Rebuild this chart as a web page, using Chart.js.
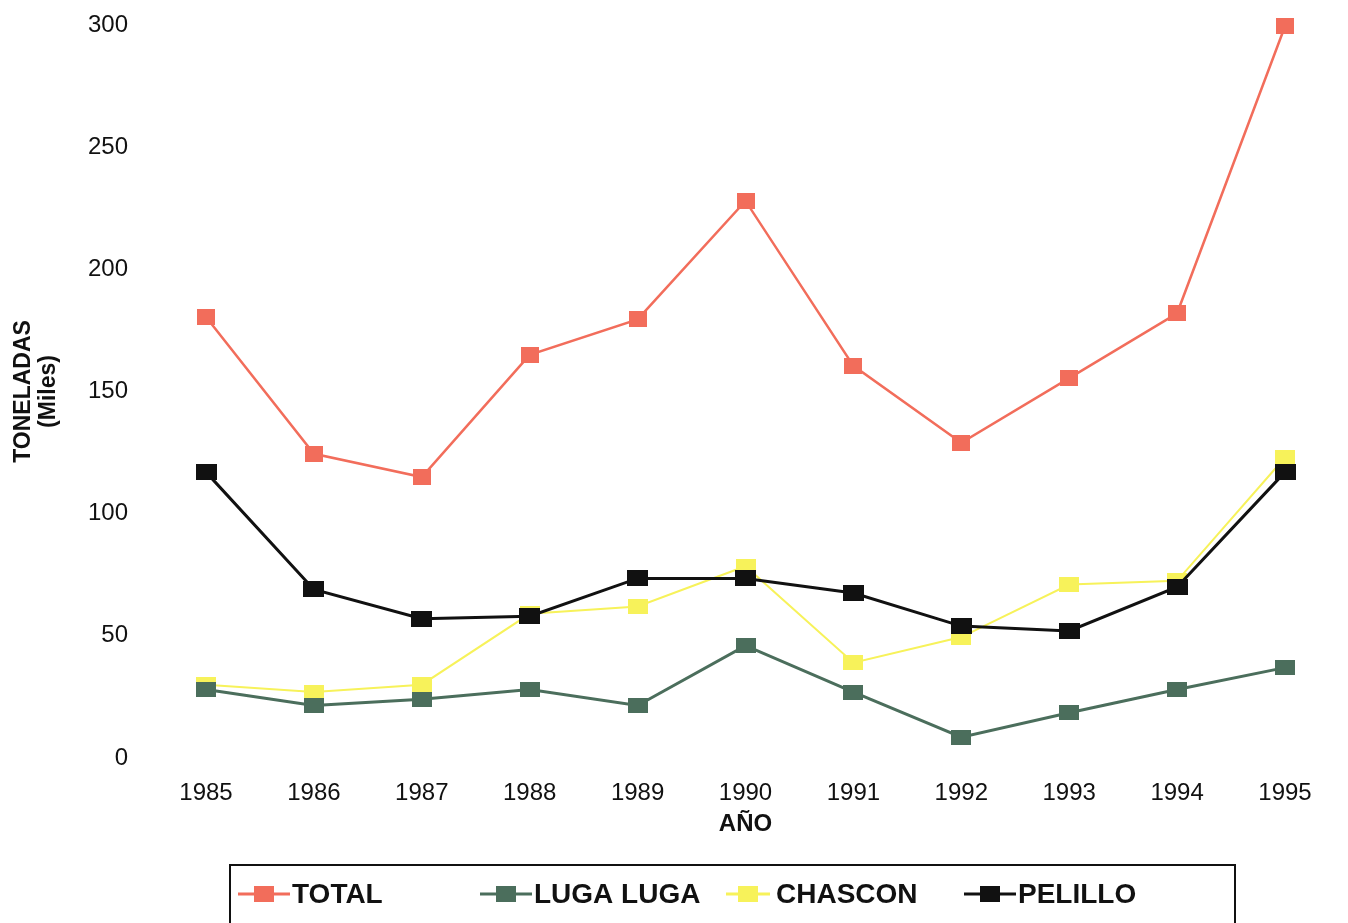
<!DOCTYPE html>
<html>
<head>
<meta charset="utf-8">
<script src="https://cdn.jsdelivr.net/npm/chart.js@4/dist/chart.umd.min.js"></script>
<style>
html,body{margin:0;padding:0;background:#fff;}
#wrap{position:relative;width:1348px;height:923px;}
</style>
</head>
<body>
<div id="wrap"><canvas id="c" width="1348" height="923"></canvas></div>
<script>
const years = ['1985','1986','1987','1988','1989','1990','1991','1992','1993','1994','1995'];
const total    = [180.5, 124.5, 115, 165, 179.5, 228, 160.5, 129, 155.5, 182, 299.5];
const lugaLuga = [28, 21.5, 24, 28, 21.5, 46, 27, 8.5, 18.5, 28, 37];
const chascon  = [30, 27, 30, 59, 62, 78.5, 39, 49.5, 71, 72.5, 123];
const pelillo  = [117, 69, 57, 58, 73.5, 73.5, 67.5, 54, 52, 70, 117];
const yTicks   = [0, 50, 100, 150, 200, 250, 300];

function box(color, w, h){
  const c = document.createElement('canvas');
  c.width = w; c.height = h;
  const x = c.getContext('2d');
  x.fillStyle = color; x.fillRect(0,0,w,h);
  return c;
}

const C_TOTAL = '#f26d5b', C_LUGA = '#4b6e5c', C_CHAS = '#f7f25a', C_PEL = '#111111';
const FONT = '"Liberation Sans", Arial, sans-serif';

const legendPlugin = {
  id: 'boxLegend',
  afterDraw(chart){
    const ctx = chart.ctx;
    ctx.save();
    ctx.strokeStyle = '#111';
    ctx.lineWidth = 2;
    ctx.strokeRect(230, 865, 1005, 80);
    const items = chart.data.datasets.slice().sort((a,b)=>a.legendIndex-b.legendIndex);
    const y = 894;
    items.forEach((ds, i) => {
      const x0 = 238 + i*242;
      ctx.strokeStyle = ds.borderColor;
      ctx.lineWidth = 3;
      ctx.beginPath(); ctx.moveTo(x0 + (i===2 ? 4 : 0), y); ctx.lineTo(x0 + (i===2 ? 48 : 52), y); ctx.stroke();
      ctx.fillStyle = ds.pointBackgroundColor;
      ctx.fillRect(x0+16, y-8, 20, 16);
      ctx.fillStyle = '#111';
      ctx.font = 'bold 28px ' + FONT;
      ctx.textBaseline = 'middle';
      ctx.textAlign = 'left';
      ctx.fillText(ds.label, x0 + 54, y+1);
    });
    ctx.restore();
  }
};

function ds(label, data, color, w, h, lw, order, legendIndex){
  return {
    label, data,
    borderColor: color, backgroundColor: color,
    pointBackgroundColor: color,
    borderWidth: lw,
    pointStyle: box(color, w, h),
    pointRadius: 10,
    tension: 0,
    clip: false,
    order, legendIndex
  };
}

new Chart(document.getElementById('c'), {
  type: 'line',
  data: {
    labels: years,
    datasets: [
      ds('TOTAL', total, C_TOTAL, 18, 16, 2.5, 0, 0),
      ds('LUGA LUGA', lugaLuga, C_LUGA, 20, 15, 3, 1, 1),
      ds('CHASCON', chascon, C_CHAS, 20, 15, 2, 2, 2),
      ds('PELILLO', pelillo, C_PEL, 21, 16, 3, 0, 3)
    ]
  },
  options: {
    responsive: false,
    animation: false,
    layout: { padding: { left: 0, right: 63, top: 25, bottom: 83 } },
    plugins: { legend: { display: false }, tooltip: { enabled: false } },
    scales: {
      x: {
        type: 'category',
        offset: false,
        grid: { display: false, drawTicks: false },
        border: { display: false },
        ticks: { color: '#111', padding: 21, maxRotation: 0, autoSkip: false,
                 font: { family: FONT, size: 24 } },
        title: { display: true, text: 'AÑO', color: '#111',
                 font: { family: FONT, size: 24, weight: 'bold' },
                 padding: { top: 0, bottom: 1.5 } },
        afterFit(s){ s.height = 82; }
      },
      y: {
        min: 0, max: 300,
        afterBuildTicks(s){ s.ticks = yTicks.map(v => ({ value: v })); },
        grid: { display: false, drawTicks: false },
        border: { display: false },
        ticks: { color: '#111', padding: 78,
                 font: { family: FONT, size: 24 } },
        title: { display: true, text: ['TONELADAS', '(Miles)'], color: '#111',
                 font: { family: FONT, size: 23, weight: 'bold', lineHeight: 1.1 },
                 padding: { top: 11, bottom: 0 } },
        afterFit(s){ s.width = 206; s.paddingTop = 0; s.paddingBottom = 0; }
      }
    }
  },
  plugins: [legendPlugin]
});
</script>
</body>
</html>
